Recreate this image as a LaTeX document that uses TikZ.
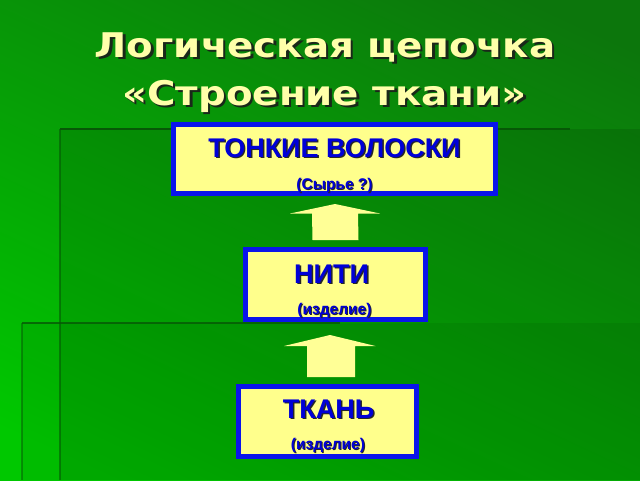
\documentclass[tikz,border=0pt]{standalone}
\usepackage{fontspec}
\setmainfont{Liberation Sans}
\newfontfamily\titlefont{DejaVu Sans}
\usetikzlibrary{calc}
\definecolor{bgtop}{RGB}{12,118,12}
\definecolor{bgbot}{RGB}{0,200,0}
\definecolor{edgegreen}{RGB}{6,88,6}
\definecolor{boxfill}{RGB}{255,255,140}
\definecolor{boxline}{RGB}{10,20,235}
\definecolor{txtblue}{RGB}{0,0,215}
\definecolor{arrowfill}{RGB}{255,255,150}
\definecolor{titleyellow}{RGB}{255,255,170}
\definecolor{titleshadow}{RGB}{25,40,25}
\newcommand{\widetitle}[1]{\scalebox{1.14}[1]{#1}}
\tikzset{
  stagebox/.style={draw=boxline, line width=5pt, fill=boxfill, inner sep=0pt},
  bigtxt/.style={anchor=base, inner sep=0pt, text=txtblue, font=\bfseries\fontsize{27}{30}\selectfont},
  bigshadow/.style={anchor=base, inner sep=0pt, text=black!85, font=\bfseries\fontsize{27}{30}\selectfont},
  smalltxt/.style={anchor=base, inner sep=0pt, text=txtblue, font=\bfseries\fontsize{15.5}{18}\selectfont},
  smallshadow/.style={anchor=base, inner sep=0pt, text=black!85, font=\bfseries\fontsize{15.5}{18}\selectfont},
  titletxt/.style={anchor=base, inner sep=0pt, text=titleyellow, font=\titlefont\bfseries\fontsize{34}{40}\selectfont},
  titleshad/.style={anchor=base, inner sep=0pt, text=titleshadow, font=\titlefont\bfseries\fontsize{34}{40}\selectfont},
  blockarrow/.style={fill=arrowfill, draw=none}
}
\begin{document}
\begin{tikzpicture}[x=1pt,y=-1pt]
\useasboundingbox (0,0) rectangle (640,480);
% background
\shade[top color=bgtop, bottom color=bgbot, shading angle=-25] (-40,-40) rectangle (680,520);
\fill[black, opacity=0.10] (60,129) rectangle (640,480);
\fill[black, opacity=0.06] (22,323) rectangle (640,480);
\draw[edgegreen, line width=2.2pt] (60,129) -- (570,129);
\draw[edgegreen, line width=1.2pt, opacity=0.6] (60,129) -- (60,480);
\draw[edgegreen, line width=2pt, opacity=0.8] (22,323) -- (340,323);
\draw[edgegreen, line width=1.2pt, opacity=0.5] (22,323) -- (22,480);
% title
\node[titleshad] (t1s) at (327.5,59.5) {\widetitle{Логическая цепочка}};
\node[titletxt] (t1) at (325,57) {\widetitle{Логическая цепочка}};
\node[titleshad] (t2s) at (327,107.5) {\widetitle{«Строение ткани»}};
\node[titletxt] (t2) at (324.5,105) {\widetitle{«Строение ткани»}};
% boxes
\node[stagebox, minimum width=322pt, minimum height=69pt] (b1) at (334.5,159) {};
\node[stagebox, minimum width=180pt, minimum height=70pt] (b2) at (335.5,284.5) {};
\node[stagebox, minimum width=178pt, minimum height=70pt] (b3) at (327.5,421.5) {};
% box texts
\node[bigshadow] (b1ts) at ($(b1.center)+(1.5,-0.5)$) {ТОНКИЕ ВОЛОСКИ};
\node[bigtxt] (b1t) at ($(b1.center)+(0,-2)$) {ТОНКИЕ ВОЛОСКИ};
\node[smallshadow] (b1ss) at ($(b1.center)+(1,31)$) {(Сырье ?)};
\node[smalltxt] (b1s) at ($(b1.center)+(0,30)$) {(Сырье ?)};
\node[bigshadow] (b2ts) at ($(b2.center)+(-2.5,0)$) {НИТИ};
\node[bigtxt] (b2t) at ($(b2.center)+(-4,-1.5)$) {НИТИ};
\node[smallshadow] (b2ss) at ($(b2.center)+(0,30.5)$) {(изделие)};
\node[smalltxt] (b2s) at ($(b2.center)+(-1,29.5)$) {(изделие)};
\node[bigshadow] (b3ts) at ($(b3.center)+(2.5,-2)$) {ТКАНЬ};
\node[bigtxt] (b3t) at ($(b3.center)+(1,-3.5)$) {ТКАНЬ};
\node[smallshadow] (b3ss) at ($(b3.center)+(1.5,28.5)$) {(изделие)};
\node[smalltxt] (b3s) at ($(b3.center)+(0.5,27.5)$) {(изделие)};
% block arrows (from lower box up to upper box)
\coordinate (a1tip) at ($(b1.south)+(0.5,8)$);
\coordinate (a1base) at ($(b2.north)+(-0.5,-7)$);
\fill[blockarrow] (a1tip) -- ($(a1tip)+(45,9.5)$) -- ($(a1tip)+(23,9.5)$) -- ($(a1base)+(23.5,0)$)
  -- ($(a1base)+(-22.5,0)$) -- ($(a1tip)+(-23,9.5)$) -- ($(a1tip)+(-45,9.5)$) -- cycle;
\coordinate (a2tip) at ($(b2.south)+(-5.5,13)$);
\coordinate (a2base) at ($(b3.north)+(3.5,-7)$);
\fill[blockarrow] (a2tip) -- ($(a2tip)+(45.5,11)$) -- ($(a2tip)+(25,11)$) -- ($(a2base)+(24,0)$)
  -- ($(a2base)+(-24,0)$) -- ($(a2tip)+(-23,11)$) -- ($(a2tip)+(-46,11)$) -- cycle;
\end{tikzpicture}
\end{document}
